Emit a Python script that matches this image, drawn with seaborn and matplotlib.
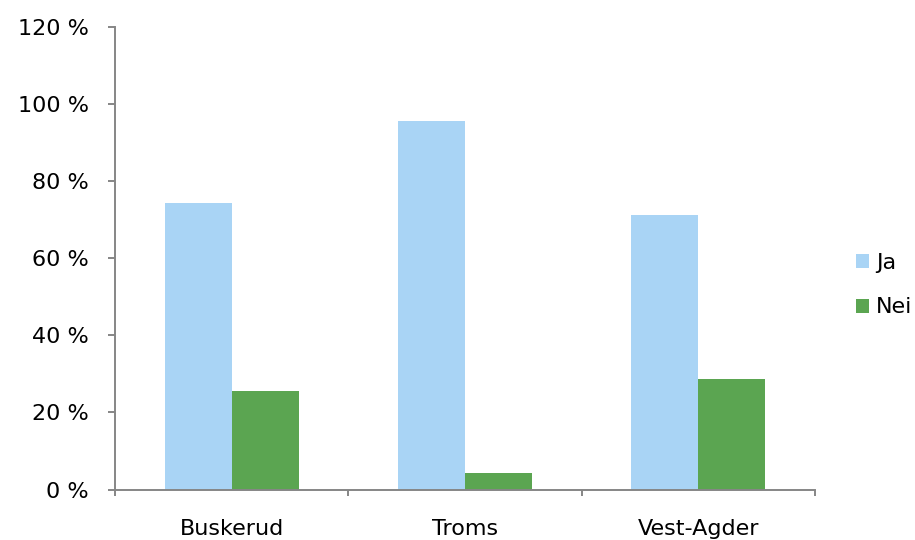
import matplotlib
matplotlib.use("Agg")
import matplotlib.pyplot as plt
import seaborn as sns
import pandas as pd
from matplotlib.ticker import FixedLocator

categories = ["Buskerud", "Troms", "Vest-Agder"]
series_names = ["Ja", "Nei"]
ja_values = [74.4, 95.7, 71.3]
nei_values = [25.6, 4.3, 28.7]
y_ticks = [0, 20, 40, 60, 80, 100, 120]
y_tick_labels = ["0 %", "20 %", "40 %", "60 %", "80 %", "100 %", "120 %"]

colors = {"Ja": "#A9D4F5", "Nei": "#5BA551"}

df = pd.DataFrame({
    "Fylke": categories * 2,
    "Svar": [series_names[0]] * 3 + [series_names[1]] * 3,
    "Andel": ja_values + nei_values,
})

sns.set_style("white")
plt.rcParams["font.family"] = ["DejaVu Sans"]
plt.rcParams["text.color"] = "black"
plt.rcParams["xtick.color"] = "black"
plt.rcParams["ytick.color"] = "black"

FS = 16
fig = plt.figure(figsize=(9.15, 5.4), dpi=100)
ax = fig.add_axes([115 / 915, 1 - 489.5 / 540, 700 / 915, 462.5 / 540])

sns.barplot(data=df, x="Fylke", y="Andel", hue="Svar", palette=colors,
            width=0.575, ax=ax, saturation=1, linewidth=0, legend=True)

ax.set_ylim(0, 120)
ax.set_xlim(-0.5, 2.5)
ax.set_yticks(y_ticks)
ax.set_yticklabels(y_tick_labels, fontsize=FS)
ax.xaxis.set_minor_locator(FixedLocator([-0.5, 0.5, 1.5, 2.5]))
ax.tick_params(axis="x", which="both", bottom=True)
ax.tick_params(axis="y", which="major", left=True)
ax.tick_params(axis="x", which="major", length=0, labelsize=FS, pad=21,
               labelcolor="black")
ax.tick_params(axis="y", which="major", length=5, width=1.4, color="#868686",
               direction="out", pad=14, labelcolor="black")
ax.tick_params(axis="x", which="minor", length=4.5, width=1.4, color="#868686",
               direction="out")
ax.set_xlabel("")
ax.set_ylabel("")
for s in ["top", "right"]:
    ax.spines[s].set_visible(False)
for s in ["left", "bottom"]:
    ax.spines[s].set_color("#868686")
    ax.spines[s].set_linewidth(1.4)

handles, labels = ax.get_legend_handles_labels()
ax.get_legend().remove()
fig.legend(handles, labels, loc="center left", bbox_to_anchor=(856 / 915, 1 - 285 / 540),
           frameon=False, fontsize=FS, handlelength=0.6, handleheight=0.6,
           handletextpad=0.3, labelspacing=1.12, borderaxespad=0, borderpad=0)

fig.savefig("out.png", dpi=100)
